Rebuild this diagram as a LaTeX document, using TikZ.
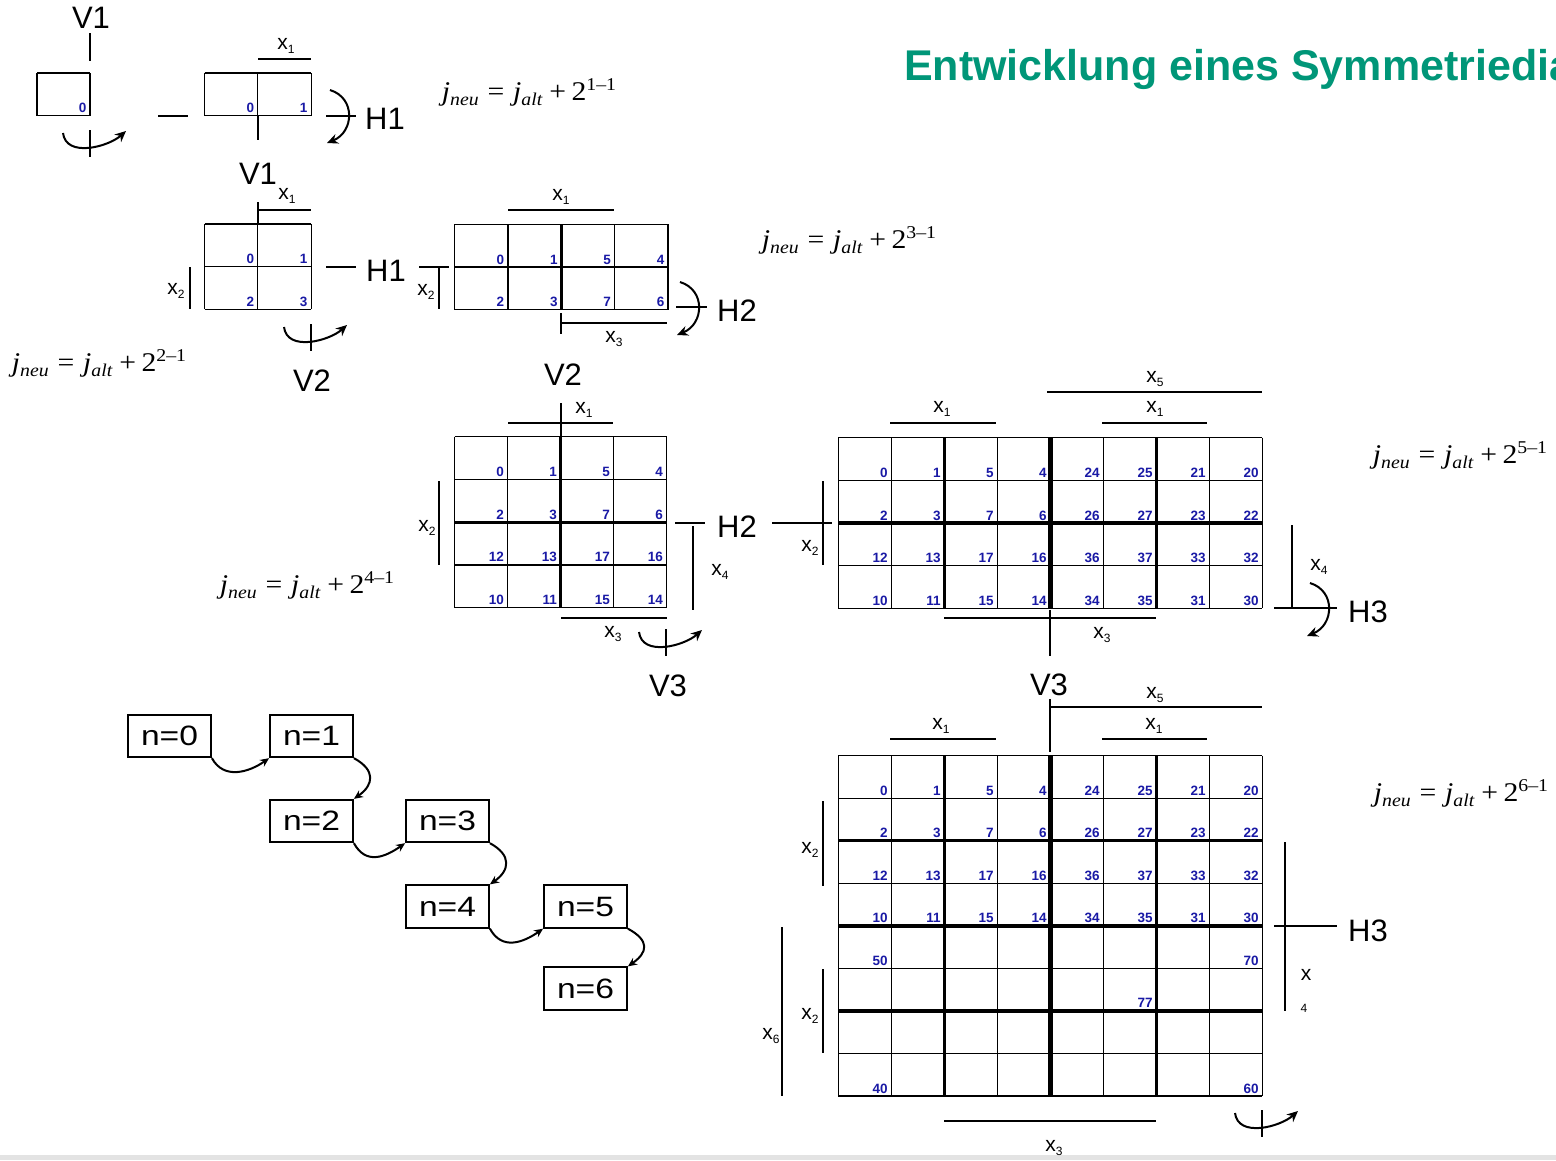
\documentclass[tikz,border=0pt]{standalone}
\usepackage{fontspec}
\setmainfont{Liberation Sans}
\newfontfamily\tms{Liberation Serif}
\usetikzlibrary{arrows.meta}
\definecolor{numblue}{RGB}{25,25,165}
\definecolor{titlegreen}{RGB}{0,150,120}
\newcommand{\xl}[1]{x\raisebox{-4.5pt}{\fontsize{12}{12}\selectfont #1}}
\newcommand{\jeq}[1]{\scalebox{1.1}[1]{\fontsize{27}{27}\selectfont\tms
 \textit{j}\raisebox{-5pt}{\fontsize{18}{18}\selectfont\textit{neu}}\hspace{8pt}=\hspace{8pt}%
 \textit{j}\raisebox{-5pt}{\fontsize{18}{18}\selectfont\textit{alt}}\hspace{6pt}+\hspace{5pt}%
 2\raisebox{10pt}{\fontsize{18}{18}\selectfont #1\textendash1}}}
\newcommand{\nlab}[1]{\scalebox{1.2}[1]{n=#1}}
\tikzset{
 big/.style={font=\fontsize{31}{31}\selectfont, inner sep=0pt},
 lab/.style={font=\fontsize{21}{21}\selectfont, inner sep=0pt},
 num/.style={font=\fontsize{13.5}{13.5}\selectfont\bfseries, text=numblue, inner sep=0pt, anchor=base east},
 brk/.style={line width=1.9pt},
 gthin/.style={line width=1.1pt},
 gthk/.style={line width=3.2pt},
 gthkk/.style={line width=4.8pt},
 rot/.style={line width=2pt, -{Stealth[length=11pt,width=10pt]}},
 frm/.style={inner sep=0pt},
 nbox/.style={draw, line width=1.8pt, minimum width=83pt, minimum height=42.5pt, inner sep=0pt, font=\fontsize{28}{28}\selectfont},
 conn/.style={line width=2pt, -{Stealth[length=9pt,width=8pt]}},
}
% x0 y0 w h cols rows
\newcommand{\kgrid}[6]{%
  \foreach \i in {0,...,#5} {\draw[gthin] ({#1+\i*#3},#2) -- ({#1+\i*#3},{#2+#6*#4});}
  \foreach \j in {0,...,#6} {\draw[gthin] (#1,{#2+\j*#4}) -- ({#1+#5*#3},{#2+\j*#4});}
}
% prefix x0 y0 w h list
\newcommand{\knums}[6]{%
  \foreach \c/\r/\t in {#6} {\node[num] (#1-\c-\r) at ({#2+(\c+1)*#4-3.5},{#3+(\r+1)*#5-3}) {\t};}
}
\newcommand{\rotV}[2]{%
  \draw[brk] (#1,{#2-3}) -- (#1,{#2+24});
  \draw[rot] ({#1-27},#2) .. controls ({#1-24},{#2+25}) and ({#1+18},{#2+14}) .. ({#1+36},{#2-2});
}
\newcommand{\rotH}[2]{%
  \draw[rot] ({#1+4},{#2-26}) .. controls ({#1+30},{#2-18}) and ({#1+28},{#2+16}) .. ({#1+1},{#2+27});
}
\begin{document}
\begin{tikzpicture}[x=1pt,y=-1pt]
\useasboundingbox (0,0) rectangle (1556,1160);
\fill[white] (0,0) rectangle (1556,1160);
\fill[gray!22] (0,1155) rectangle (1556,1160);

% title (cut off at the right edge, as in the reference)
\begin{scope}
\clip (0,0) rectangle (1556,1160);
\node[anchor=base west, font=\fontsize{43}{43}\selectfont\bfseries, text=titlegreen, inner sep=0pt] (title) at (904,80) {Entwicklung eines Symmetriediagramms};
\end{scope}

%================ Row 1
\kgrid{37}{73}{53}{42.5}{1}{1}
\knums{ga}{37}{73}{53}{42.5}{0/0/0}
\node[big] (v1a) at (91,18) {V1};
\draw[brk] (90,33) -- (90,61);
\rotV{90}{133}
\draw[brk] (158,116) -- (188,116);

\kgrid{204.5}{73}{53.3}{42.5}{2}{1}
\knums{gb}{204.5}{73}{53.3}{42.5}{0/0/0,1/0/1}
\draw[brk] (258,59) -- (311,59);
\node[lab] (lx1a) at (286,46) {\xl{1}};
\draw[brk] (258,116) -- (258,140);
\draw[brk] (326,116) -- (356,116);
\rotH{326}{116}
\node[big] (h1a) at (385,119) {H1};
\node[frm] (f1) at (529,92) {\jeq{1}};

%================ Row 2
\node[big] (v1b) at (258,174) {V1};
\kgrid{204.5}{224}{53.3}{42.7}{2}{2}
\knums{gc}{204.5}{224}{53.3}{42.7}{0/0/0,1/0/1,0/1/2,1/1/3}
\draw[brk] (258,202) -- (258,224);
\draw[brk] (258,210) -- (311,210);
\node[lab] (lx1b) at (287,196) {\xl{1}};
\draw[brk] (190,267) -- (190,309);
\node[lab] (lx2b) at (176,291) {\xl{2}};
\draw[brk] (326,267) -- (356,267);
\node[big] (h1b) at (386,271) {H1};
\draw[brk] (419,267) -- (449,267);
\draw[brk] (439,267) -- (439,309);
\node[lab] (lx2c) at (426,292) {\xl{2}};
\rotV{311}{327}
\node[big] (v2a) at (312,381) {V2};
\node[frm] (f2) at (99,363) {\jeq{2}};

\kgrid{454.6}{224.3}{53.35}{42.7}{4}{2}
\draw[gthk] (561.3,224.3) -- (561.3,309.7);
\knums{gd}{454.6}{224.3}{53.35}{42.7}{0/0/0,1/0/1,2/0/5,3/0/4,0/1/2,1/1/3,2/1/7,3/1/6}
\draw[brk] (508,210) -- (614,210);
\node[lab] (lx1c) at (561,197) {\xl{1}};
\draw[brk] (561,313) -- (561,334);
\draw[brk] (561,323) -- (667,323);
\node[lab] (lx3a) at (614,339) {\xl{3}};
\draw[brk] (676,307) -- (707,307);
\rotH{676}{308}
\node[big] (h2a) at (737,311) {H2};
\node[frm] (f3) at (849,240) {\jeq{3}};

%================ Row 3 left
\node[big] (v2b) at (563,375) {V2};
\kgrid{454.5}{436.7}{53}{42.75}{4}{4}
\draw[gthk] (560.5,436.7) -- (560.5,607.7);
\draw[gthk] (454.5,522.2) -- (666.5,522.2);
\knums{ge}{454.5}{436.7}{53}{42.75}{0/0/0,1/0/1,2/0/5,3/0/4,0/1/2,1/1/3,2/1/7,3/1/6,0/2/12,1/2/13,2/2/17,3/2/16,0/3/10,1/3/11,2/3/15,3/3/14}
\draw[brk] (561,403) -- (561,437);
\draw[brk] (508,423) -- (613,423);
\node[lab] (lx1d) at (584,410) {\xl{1}};
\draw[brk] (439,481) -- (439,565);
\node[lab] (lx2d) at (427,528) {\xl{2}};
\draw[brk] (675,523) -- (705,523);
\node[big] (h2b) at (737,527) {H2};
\draw[brk] (693,526) -- (693,610);
\node[lab] (lx4a) at (720,572) {\xl{4}};
\draw[brk] (561,618) -- (667,618);
\node[lab] (lx3b) at (613,634) {\xl{3}};
\rotV{666}{632}
\node[big] (v3a) at (668,686) {V3};
\node[frm] (f4) at (307,585) {\jeq{4}};

%================ Row 3 right
\kgrid{838.3}{437.7}{53}{42.65}{8}{4}
\draw[gthk] (944.3,437.7) -- (944.3,608.3);
\draw[gthk] (1156.3,437.7) -- (1156.3,608.3);
\draw[gthk] (838.3,523) -- (1262.3,523);
\draw[gthkk] (1050.3,437.7) -- (1050.3,608.3);
\knums{gf}{838.3}{437.7}{53}{42.65}{0/0/0,1/0/1,2/0/5,3/0/4,0/1/2,1/1/3,2/1/7,3/1/6,0/2/12,1/2/13,2/2/17,3/2/16,0/3/10,1/3/11,2/3/15,3/3/14,4/0/24,5/0/25,6/0/21,7/0/20,4/1/26,5/1/27,6/1/23,7/1/22,4/2/36,5/2/37,6/2/33,7/2/32,4/3/34,5/3/35,6/3/31,7/3/30}
\draw[brk] (772,523) -- (832,523);
\draw[brk] (823,481) -- (823,565);
\node[lab] (lx2e) at (810,548) {\xl{2}};
\draw[brk] (890,423) -- (996,423);
\node[lab] (lx1e) at (942,409) {\xl{1}};
\draw[brk] (1047,392) -- (1262,392);
\node[lab] (lx5a) at (1155,379) {\xl{5}};
\draw[brk] (1102,423) -- (1207,423);
\node[lab] (lx1f) at (1155,409) {\xl{1}};
\draw[brk] (944,618) -- (1156,618);
\draw[brk] (1050,610) -- (1050,656);
\node[lab] (lx3c) at (1102,635) {\xl{3}};
\draw[brk] (1292,525) -- (1292,608);
\draw[brk] (1274,608) -- (1337,608);
\node[lab] (lx4b) at (1319,567) {\xl{4}};
\rotH{1306}{609}
\node[big] (h3a) at (1368,612) {H3};
\node[frm] (f5) at (1460,455) {\jeq{5}};

%================ Row 4
\node[big] (v3b) at (1049,685) {V3};
\kgrid{838.3}{755.7}{53}{42.54}{8}{8}
\draw[gthk] (944.3,755.7) -- (944.3,1096);
\draw[gthk] (1156.3,755.7) -- (1156.3,1096);
\draw[gthk] (838.3,840.8) -- (1262.3,840.8);
\draw[gthk] (838.3,1011) -- (1262.3,1011);
\draw[gthkk] (838.3,925.9) -- (1262.3,925.9);
\draw[gthkk] (1050.3,755.7) -- (1050.3,1096);
\knums{gg}{838.3}{755.7}{53}{42.54}{0/0/0,1/0/1,2/0/5,3/0/4,0/1/2,1/1/3,2/1/7,3/1/6,0/2/12,1/2/13,2/2/17,3/2/16,0/3/10,1/3/11,2/3/15,3/3/14,4/0/24,5/0/25,6/0/21,7/0/20,4/1/26,5/1/27,6/1/23,7/1/22,4/2/36,5/2/37,6/2/33,7/2/32,4/3/34,5/3/35,6/3/31,7/3/30,0/4/50,7/4/70,5/5/77,0/7/40,7/7/60}
\draw[brk] (1050,699) -- (1050,752);
\draw[brk] (1050,707) -- (1262,707);
\node[lab] (lx5b) at (1155,695) {\xl{5}};
\draw[brk] (890,739) -- (996,739);
\node[lab] (lx1g) at (941,726) {\xl{1}};
\draw[brk] (1102,739) -- (1207,739);
\node[lab] (lx1h) at (1154,726) {\xl{1}};
\draw[brk] (823,801) -- (823,886);
\node[lab] (lx2f) at (810,850) {\xl{2}};
\draw[brk] (823,969) -- (823,1053);
\node[lab] (lx2g) at (810,1016) {\xl{2}};
\draw[brk] (782,927) -- (782,1096);
\node[lab] (lx6) at (771,1036) {\xl{6}};
\draw[brk] (944,1121) -- (1156,1121);
\node[lab] (lx3d) at (1054,1148) {\xl{3}};
\draw[brk] (1285,842) -- (1285,1011);
\draw[brk] (1274,926) -- (1337,926);
\node[big] (h3b) at (1368,931) {H3};
\node[lab] (lx4c) at (1306,975) {x};
\node[font=\fontsize{12}{12}\selectfont, inner sep=0pt] (lx4d) at (1304,1008) {4};
\rotV{1262}{1113}
\node[frm] (f6) at (1461,793) {\jeq{6}};

%================ n boxes
\node[nbox] (n0) at (169.5,736) {\nlab{0}};
\node[nbox] (n1) at (311.5,736) {\nlab{1}};
\node[nbox] (n2) at (311.5,821) {\nlab{2}};
\node[nbox] (n3) at (447.5,821) {\nlab{3}};
\node[nbox] (n4) at (447.5,906.5) {\nlab{4}};
\node[nbox] (n5) at (585.5,906.5) {\nlab{5}};
\node[nbox] (n6) at (585.5,988.5) {\nlab{6}};
\draw[conn] (n0.south east) .. controls +(12,22) and +(-20,14) .. (n1.south west);
\draw[conn] (n1.south east) .. controls +(22,12) and +(20,-14) .. (n2.north east);
\draw[conn] (n2.south east) .. controls +(12,22) and +(-20,14) .. (n3.south west);
\draw[conn] (n3.south east) .. controls +(22,12) and +(20,-14) .. (n4.north east);
\draw[conn] (n4.south east) .. controls +(12,22) and +(-20,14) .. (n5.south west);
\draw[conn] (n5.south east) .. controls +(22,12) and +(20,-14) .. (n6.north east);
\end{tikzpicture}
\end{document}
